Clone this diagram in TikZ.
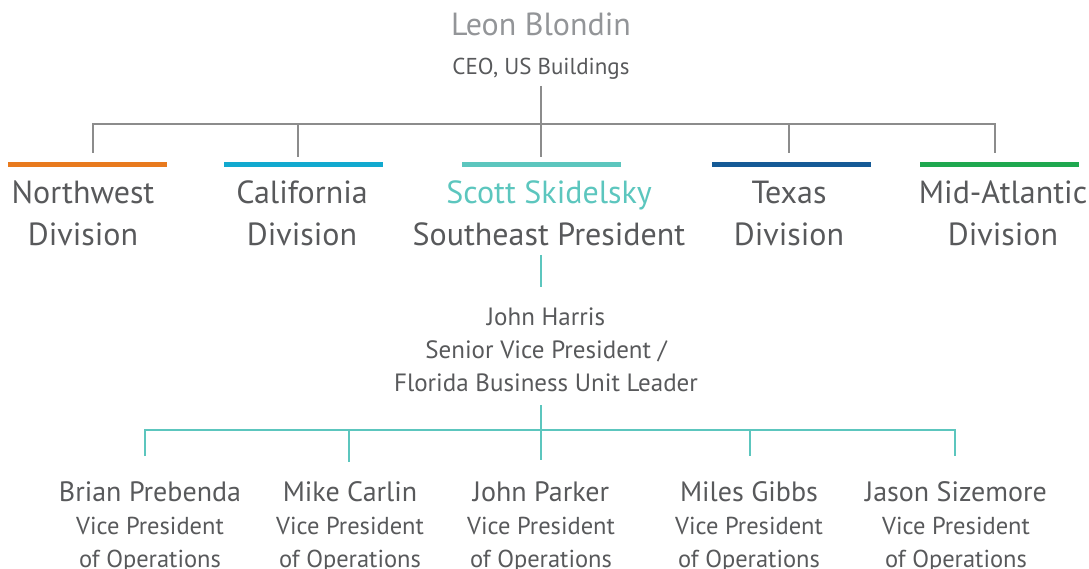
\documentclass[tikz,border=0pt]{standalone}
\usepackage{fontspec}
\setmainfont{PT Sans}
\definecolor{ink}{HTML}{58595B}
\definecolor{ceogray}{HTML}{939598}
\definecolor{linegray}{HTML}{8C8C8C}
\definecolor{teal}{HTML}{5CC6BE}
\definecolor{nworange}{HTML}{E87A1E}
\definecolor{cablue}{HTML}{12A9CF}
\definecolor{txblue}{HTML}{155A96}
\definecolor{magreen}{HTML}{1FA84F}
\newcommand\vpnamefont{\fontsize{28}{33}\selectfont}
\begin{document}
\begin{tikzpicture}[x=1pt,y=-1pt,
  % multi-line nodes are placed by the baseline of their last line
  txt/.style={text=ink, inner sep=0pt, align=center, anchor=base},
  divtxt/.style={txt, font=\fontsize{32}{42}\selectfont},
  midtxt/.style={txt, font=\fontsize{25}{33}\selectfont},
  vptxt/.style={txt, font=\fontsize{24.5}{33}\selectfont},
  divbar/.style={fill=#1, draw=none, minimum width=159pt, minimum height=5pt, inner sep=0pt},
  grayline/.style={draw=linegray, line width=2.6pt},
  tealline/.style={draw=teal, line width=2.4pt}]
\useasboundingbox (0,0) rectangle (1089,569);

% top level
\node[txt, text=ceogray, font=\fontsize{32}{36}\selectfont] (leon) at (541,36) {Leon Blondin};
\node[txt, font=\fontsize{23}{26}\selectfont] (ceo) at (541,75) {CEO, US Buildings};

% division colour bars
\node[divbar=nworange] (barNW) at (87.5,165) {};
\node[divbar=cablue]   (barCA) at (303.5,165) {};
\node[divbar=teal]     (barSE) at (541,165) {};
\node[divbar=txblue]   (barTX) at (791.5,165) {};
\node[divbar=magreen]  (barMA) at (999,165) {};

% division labels
\node[divtxt] (nw) at (83,246) {Northwest\\Division};
\node[divtxt] (ca) at (302,246) {California\\Division};
\node[divtxt] (se) at (549,246) {\textcolor{teal}{Scott Skidelsky}\\Southeast President};
\node[divtxt] (tx) at (789,246) {Texas\\Division};
\node[divtxt] (ma) at (1003,246) {Mid-Atlantic\\Division};

% bus from the CEO to the divisions
\coordinate (ceoBot) at (541,86);
\coordinate (bus) at (541,124);
\coordinate (dNW) at (93,153);
\coordinate (dCA) at (298,157);
\coordinate (dSE) at (541,157);
\coordinate (dTX) at (789,153);
\coordinate (dMA) at (995,153);
\draw[grayline] (ceoBot) -- (dSE);
\draw[grayline] (dNW) -- (dNW |- bus) -- (dMA |- bus) -- (dMA);
\draw[grayline] (dCA |- bus) -- (dCA);
\draw[grayline] (dTX |- bus) -- (dTX);

% Florida leader
\node[midtxt] (jh) at (546,391) {John Harris\\Senior Vice President /\\Florida Business Unit Leader};
\coordinate (seBot) at (541,255);
\coordinate (jhTop) at (541,287);
\draw[tealline] (seBot) -- (jhTop);

% vice presidents
\node[vptxt] (bp) at (150,567) {{\vpnamefont Brian Prebenda}\\Vice President\\of Operations};
\node[vptxt] (mc) at (350,567) {{\vpnamefont Mike Carlin}\\Vice President\\of Operations};
\node[vptxt] (jp) at (541,567) {{\vpnamefont John Parker}\\Vice President\\of Operations};
\node[vptxt] (mg) at (749,567) {{\vpnamefont Miles Gibbs}\\Vice President\\of Operations};
\node[vptxt] (js) at (956,567) {{\vpnamefont Jason Sizemore}\\Vice President\\of Operations};

\coordinate (jhBot) at (541,405);
\coordinate (vbus) at (541,430);
\coordinate (vBP) at (145,456);
\coordinate (vMC) at (349,462);
\coordinate (vJP) at (541,460);
\coordinate (vMG) at (750,456);
\coordinate (vJS) at (955,456);
\draw[tealline] (jhBot) -- (vJP);
\draw[tealline] (vBP) -- (vBP |- vbus) -- (vJS |- vbus) -- (vJS);
\draw[tealline] (vMC |- vbus) -- (vMC);
\draw[tealline] (vMG |- vbus) -- (vMG);
\end{tikzpicture}
\end{document}
